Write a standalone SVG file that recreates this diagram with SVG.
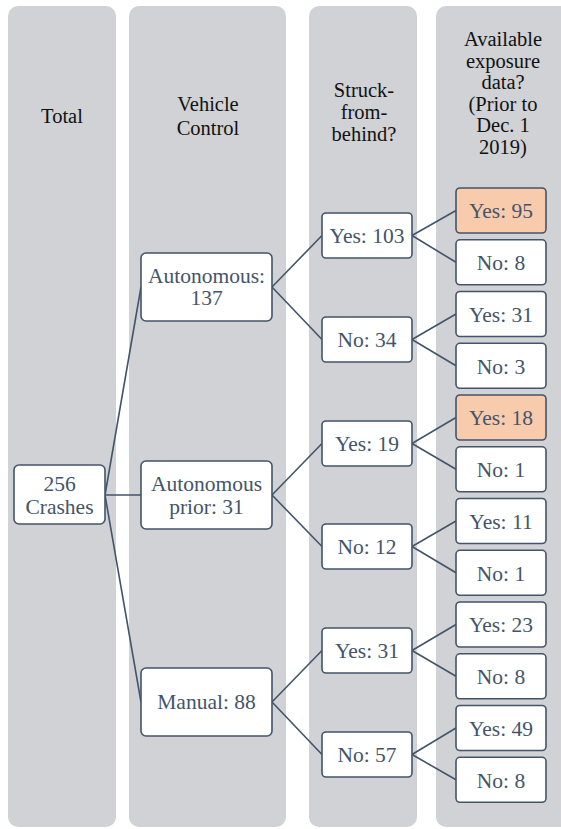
<svg xmlns="http://www.w3.org/2000/svg" width="561" height="829" viewBox="0 0 561 829">
<style>
.col{fill:#d0d2d6}
text{font-family:'Liberation Serif','Times New Roman',Tinos,'Nimbus Roman','FreeSerif','Noto Serif','DejaVu Serif',serif;text-anchor:middle}
.hdr{font-size:20.5px;fill:#111}
.box{fill:#fff;stroke:#44546a;stroke-width:1.6}
.hi{fill:#f8cbad}
.lbl{font-size:21.5px;fill:#44546a}
.con{fill:none;stroke:#44546a;stroke-width:1.6}
</style>
<rect width="561" height="829" fill="#fff"/>
<g id="columns">
<rect class="col" x="8" y="6" width="108" height="821" rx="10"/>
<rect class="col" x="129" y="6" width="157" height="821" rx="10"/>
<rect class="col" x="309" y="6" width="108" height="821" rx="10"/>
<rect class="col" x="436" y="6" width="140" height="821" rx="10"/>
</g>
<g id="headers">
<text class="hdr" x="62" y="123">Total</text>
<text class="hdr" x="208" y="111">Vehicle</text>
<text class="hdr" x="208" y="135">Control</text>
<text class="hdr" x="364" y="97">Struck-</text>
<text class="hdr" x="364" y="119">from-</text>
<text class="hdr" x="364" y="141">behind?</text>
<text class="hdr" x="503" y="46">Available</text>
<text class="hdr" x="503" y="67.6">exposure</text>
<text class="hdr" x="503" y="89.2">data?</text>
<text class="hdr" x="503" y="110.8">(Prior to</text>
<text class="hdr" x="503" y="132.4">Dec. 1</text>
<text class="hdr" x="503" y="154">2019)</text>
</g>
<g id="connectors">
<path class="con" d="M105 495 L141 287 M105 495 L141 495 M105 495 L141 702"/>
<path class="con" d="M272 287 L322 235.5 M272 287 L322 339.5 M272 495 L322 443.5 M272 495 L322 546.5 M272 702 L322 650.5 M272 702 L322 754.5"/>
<path class="con" d="M412 235.5 L456 210.5 M412 235.5 L456 262.3 M412 339.5 L456 314 M412 339.5 L456 365.8 M412 443.5 L456 417.5 M412 443.5 L456 469.3 M412 546.5 L456 521 M412 546.5 L456 572.8 M412 650.5 L456 624.5 M412 650.5 L456 676.3 M412 754.5 L456 728 M412 754.5 L456 779.8"/>
</g>
<g id="n-total"><rect class="box" x="14" y="465" width="91" height="59" rx="5"/><text class="lbl" x="59.5" y="491">256</text><text class="lbl" x="59.5" y="514">Crashes</text></g>
<g id="n-auto"><rect class="box" x="141" y="253" width="131" height="68" rx="5"/><text class="lbl" x="206.5" y="283">Autonomous:</text><text class="lbl" x="206.5" y="305">137</text></g>
<g id="n-prior"><rect class="box" x="141" y="461" width="131" height="68" rx="5"/><text class="lbl" x="206.5" y="491">Autonomous</text><text class="lbl" x="206.5" y="514">prior: 31</text></g>
<g id="n-manual"><rect class="box" x="141" y="668" width="131" height="68" rx="5"/><text class="lbl" x="206.5" y="709">Manual: 88</text></g>
<g id="n-a-yes"><rect class="box" x="322" y="213" width="90" height="45" rx="4"/><text class="lbl" x="367" y="243">Yes: 103</text></g>
<g id="n-a-no"><rect class="box" x="322" y="317" width="90" height="45" rx="4"/><text class="lbl" x="367" y="347">No: 34</text></g>
<g id="n-p-yes"><rect class="box" x="322" y="421" width="90" height="45" rx="4"/><text class="lbl" x="367" y="451">Yes: 19</text></g>
<g id="n-p-no"><rect class="box" x="322" y="524" width="90" height="45" rx="4"/><text class="lbl" x="367" y="554">No: 12</text></g>
<g id="n-m-yes"><rect class="box" x="322" y="628" width="90" height="45" rx="4"/><text class="lbl" x="367" y="658">Yes: 31</text></g>
<g id="n-m-no"><rect class="box" x="322" y="732" width="90" height="45" rx="4"/><text class="lbl" x="367" y="762">No: 57</text></g>
<g id="l1"><rect class="box hi" x="456" y="188" width="90" height="45" rx="4"/><text class="lbl" x="501" y="218">Yes: 95</text></g>
<g id="l2"><rect class="box" x="456" y="239.8" width="90" height="45" rx="4"/><text class="lbl" x="501" y="270">No: 8</text></g>
<g id="l3"><rect class="box" x="456" y="291.5" width="90" height="45" rx="4"/><text class="lbl" x="501" y="321.5">Yes: 31</text></g>
<g id="l4"><rect class="box" x="456" y="343.3" width="90" height="45" rx="4"/><text class="lbl" x="501" y="373.5">No: 3</text></g>
<g id="l5"><rect class="box hi" x="456" y="395" width="90" height="45" rx="4"/><text class="lbl" x="501" y="425">Yes: 18</text></g>
<g id="l6"><rect class="box" x="456" y="446.8" width="90" height="45" rx="4"/><text class="lbl" x="501" y="477">No: 1</text></g>
<g id="l7"><rect class="box" x="456" y="498.5" width="90" height="45" rx="4"/><text class="lbl" x="501" y="528.5">Yes: 11</text></g>
<g id="l8"><rect class="box" x="456" y="550.3" width="90" height="45" rx="4"/><text class="lbl" x="501" y="580.5">No: 1</text></g>
<g id="l9"><rect class="box" x="456" y="602" width="90" height="45" rx="4"/><text class="lbl" x="501" y="632">Yes: 23</text></g>
<g id="l10"><rect class="box" x="456" y="653.8" width="90" height="45" rx="4"/><text class="lbl" x="501" y="684">No: 8</text></g>
<g id="l11"><rect class="box" x="456" y="705.5" width="90" height="45" rx="4"/><text class="lbl" x="501" y="735.5">Yes: 49</text></g>
<g id="l12"><rect class="box" x="456" y="757.3" width="90" height="45" rx="4"/><text class="lbl" x="501" y="787.5">No: 8</text></g>
</svg>
